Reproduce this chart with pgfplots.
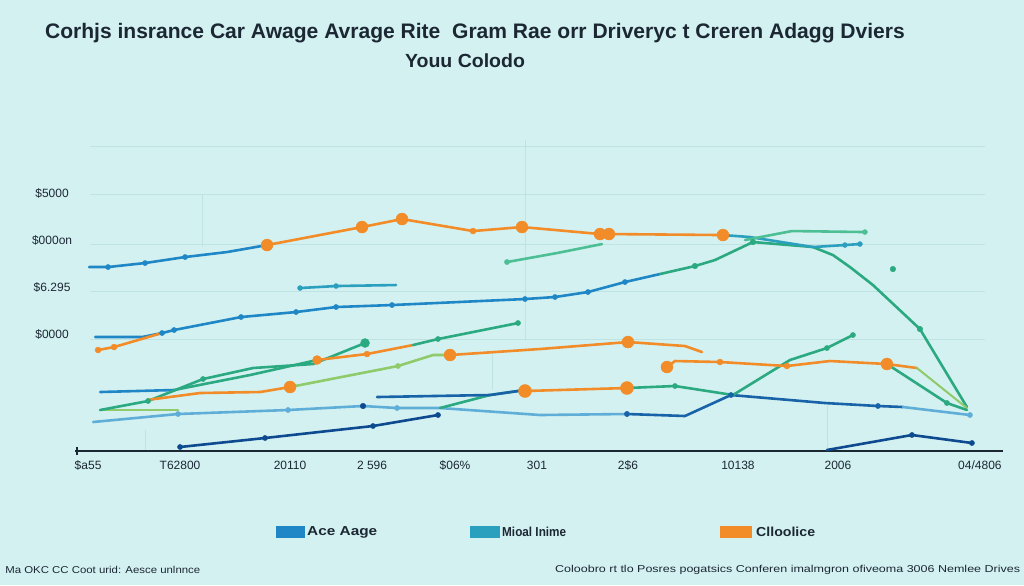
\documentclass[border=0pt]{standalone}
\usepackage{pgfplots}
\pgfplotsset{compat=1.18}
\usepackage{fontspec}
\setmainfont{Liberation Sans}
\definecolor{bgc}{HTML}{D4F1F1}
\definecolor{gridc}{HTML}{BFE2E3}
\definecolor{ctext}{HTML}{1B2733}
\definecolor{cblue}{HTML}{1F87C6}
\definecolor{cteal}{HTML}{2A9FBE}
\definecolor{cgreen}{HTML}{2BA981}
\definecolor{cmint}{HTML}{4DBF95}
\definecolor{clgreen}{HTML}{8FCB6B}
\definecolor{corange}{HTML}{F28C28}
\definecolor{cnavy}{HTML}{0E4A8F}
\definecolor{cdblue}{HTML}{1862A8}
\definecolor{clblue}{HTML}{5EAED8}
\begin{document}
\begin{tikzpicture}
\begin{axis}[
  scale only axis, width=1024pt, height=585pt,
  xmin=0, xmax=1024, ymin=-134, ymax=451,
  axis line style={draw=none}, major tick length=0pt,
  axis background/.style={fill=bgc},
  clip=false,
  xtick={88,180,290,372,455,537,628,738,838,980},
  xticklabels={\$a55, T62800, 20110, 2 596, \$06\%, 301, 2\$6, 10138, 2006, 04/4806},
  xticklabel style={anchor=center, yshift=120pt, font=\fontsize{12}{14}\selectfont, text=ctext},
  ytick={117,164,211,258},
  yticklabels={\$0000, \$6.295, \$000on, \$5000},
  yticklabel style={anchor=center, xshift=52pt, font=\fontsize{12}{14}\selectfont, text=ctext},
  every axis plot/.append style={line width=2.6pt, line join=round, line cap=round, mark options={line width=0.4pt}},
]
% grid
\draw[gridc, line width=0.9pt] (axis cs:90,305) -- (axis cs:985,305);
\draw[gridc, line width=0.9pt] (axis cs:90,257) -- (axis cs:985,257);
\draw[gridc, line width=0.9pt] (axis cs:90,207) -- (axis cs:985,207);
\draw[gridc, line width=0.9pt] (axis cs:90,160) -- (axis cs:985,160);
\draw[gridc, line width=0.9pt] (axis cs:90,112) -- (axis cs:985,112);
\draw[gridc, line width=0.8pt] (axis cs:202,204) -- (axis cs:202,256);
\draw[gridc, line width=0.8pt] (axis cs:525,111) -- (axis cs:525,311);
\draw[gridc, line width=0.8pt] (axis cs:492,61) -- (axis cs:492,98);
\draw[gridc, line width=0.8pt] (axis cs:145,0) -- (axis cs:145,21);
\draw[gridc, line width=0.8pt] (axis cs:827,0) -- (axis cs:827,48);
% axis line
\draw[ctext, line width=1.4pt] (axis cs:75,0) -- (axis cs:1003,0);
\draw[ctext, line width=1.4pt] (axis cs:77,-4) -- (axis cs:77,4);

% top blue
\addplot[cblue, mark=*, mark size=2.6pt, mark indices={2,3,4}] coordinates {(89,184)(108,184)(145,188)(185,194)(227,199)(267,206)};
% top orange
\addplot[corange] coordinates {(267,206)(362,224)(402,232)(473,220)(522,224)(600,217)(609,217)(723,216)};
\addplot[corange, only marks, mark=*, mark size=6pt] coordinates {(267,206)(362,224)(402,232)(522,224)(600,217)(609,217)(723,216)};
\addplot[corange, only marks, mark=*, mark size=3pt] coordinates {(473,220)};
% long blue to teal
\addplot[cblue, mark=*, mark size=2.6pt, mark indices={3,4,5,6,7,8,9,10,11,12}] coordinates {(95,114)(142,114)(162,118)(174,121)(241,134)(296,139)(336,144)(392,146)(525,152)(555,154)(588,159)(625,169)(660,177)};
\addplot[cgreen, mark=*, mark size=2.8pt, mark indices={2,4,9}] coordinates {(660,177)(695,185)(715,191)(753,209)(813,204)(833,196)(850,184)(873,166)(920,122)(967,44)};
\addplot[cteal, mark=*, mark size=2.5pt, mark indices={4,5}] coordinates {(723,216)(750,214)(813,204)(845,206)(860,207)};
\addplot[cmint, mark=*, mark size=2.5pt, mark indices={3}] coordinates {(745,211)(792,220)(865,219)};
\addplot[cmint, mark=*, mark size=2.6pt, mark indices={1}] coordinates {(507,189)(557,198)(602,207)};
\addplot[cgreen, only marks, mark=*, mark size=2.8pt] coordinates {(893,182)};
\addplot[cteal, mark=*, mark size=2.5pt, mark indices={1,2}] coordinates {(300,163)(336,165)(396,166)};
% left orange
\addplot[corange, mark=*, mark size=3pt, mark indices={1,2}] coordinates {(98,101)(114,104)(162,118)};
% lower cluster
\addplot[cblue] coordinates {(100,59)(174,61)};
\addplot[clgreen, line width=2pt] coordinates {(100,41)(178,41)};
\addplot[cgreen, mark=*, mark size=2.6pt, mark indices={2,3}] coordinates {(100,41)(148,50)(203,72)(253,83)(313,87)(365,108)};
\addplot[cgreen, only marks, mark=*, mark size=4.5pt] coordinates {(365,108)};
\addplot[cgreen] coordinates {(174,61)(250,76)(317,91)};
\addplot[corange, mark=*, mark size=3pt, mark indices={2}] coordinates {(317,91)(367,97)(413,106)};
\addplot[corange, only marks, mark=*, mark size=4.5pt] coordinates {(317,91)};
\addplot[cgreen, mark=*, mark size=2.6pt, mark indices={2,3}] coordinates {(413,106)(438,112)(518,128)};
\addplot[corange] coordinates {(147,51)(200,58)(260,59)(290,64)};
\addplot[clgreen, mark=*, mark size=2.6pt, mark indices={2}] coordinates {(290,64)(398,85)(433,96)(450,96)};
\addplot[corange] coordinates {(450,96)(540,102)(628,109)(685,105)(702,99)};
\addplot[corange, only marks, mark=*, mark size=6pt] coordinates {(290,64)(450,96)(628,109)};
\addplot[clblue, mark=*, mark size=2.6pt, mark indices={2,3,5,8}] coordinates {(93,29)(178,37)(288,41)(363,45)(397,43)(440,43)(540,36)(627,37)};
\addplot[cnavy, only marks, mark=*, mark size=2.8pt] coordinates {(363,45)};
\addplot[cdblue, mark=*, mark size=2.6pt, mark indices={1,3,5}] coordinates {(627,37)(685,35)(731,56)(825,48)(878,45)(903,44)};
\addplot[clblue, mark=*, mark size=2.6pt, mark indices={2}] coordinates {(903,44)(970,36)};
\addplot[cgreen] coordinates {(440,43)(490,56)(525,61)};
\addplot[cdblue] coordinates {(377,54)(490,56)(525,61)};
\addplot[corange] coordinates {(525,60)(627,63)};
\addplot[corange, only marks, mark=*, mark size=6.5pt] coordinates {(525,60)(627,63)};
\addplot[cgreen, mark=*, mark size=2.6pt, mark indices={2}] coordinates {(627,63)(675,65)(733,56)};
\addplot[cgreen, mark=*, mark size=2.6pt, mark indices={3,4}] coordinates {(733,56)(790,91)(827,103)(853,116)};
\addplot[cnavy, mark=*, mark size=2.6pt] coordinates {(180,4)(265,13)(373,25)(438,36)};
\addplot[cnavy, mark=*, mark size=2.6pt, mark indices={2,3}] coordinates {(827,1)(912,16)(972,8)};
\addplot[corange] coordinates {(667,84)(675,90)(720,89)(787,85)(830,90)(887,87)(917,83)};
\addplot[corange, only marks, mark=*, mark size=6pt] coordinates {(667,84)(887,87)};
\addplot[corange, only marks, mark=*, mark size=3pt] coordinates {(720,89)(787,85)};
\addplot[clgreen, line width=2pt] coordinates {(917,83)(967,43)};
\addplot[cgreen, mark=*, mark size=2.6pt, mark indices={2}] coordinates {(887,87)(947,48)(967,41)};

% title
\node[font=\bfseries\fontsize{21}{24}\selectfont, text=ctext] at (axis cs:475,418) {\resizebox{860pt}{\height}{Corhjs insrance Car Awage Avrage Rite\ \ Gram Rae orr Driveryc t Creren Adagg Dviers}};
\node[font=\bfseries\fontsize{19}{22}\selectfont, text=ctext] at (axis cs:465,390) {\resizebox{120pt}{\height}{Youu Colodo}};
% legend
\fill[cblue] (axis cs:276,-75) rectangle (axis cs:305,-87);
\node[anchor=west, font=\bfseries\fontsize{13}{15}\selectfont, text=ctext, inner sep=0pt] at (axis cs:307,-81) {\resizebox{70pt}{\height}{Ace Aage}};
\fill[cteal] (axis cs:470,-75) rectangle (axis cs:500,-87);
\node[anchor=west, font=\bfseries\fontsize{13}{15}\selectfont, text=ctext, inner sep=0pt] at (axis cs:502,-81) {\resizebox{64pt}{\height}{Mioal Inime}};
\fill[corange] (axis cs:720,-75) rectangle (axis cs:752,-87);
\node[anchor=west, font=\bfseries\fontsize{13}{15}\selectfont, text=ctext, inner sep=0pt] at (axis cs:756,-81) {\resizebox{59pt}{\height}{Clloolice}};
% footer
\node[anchor=west, font=\fontsize{10}{12}\selectfont, text=ctext, inner sep=0pt] at (axis cs:5,-119) {\resizebox{195pt}{\height}{Ma OKC CC Coot urid: Aesce unlnnce}};
\node[anchor=west, font=\fontsize{10}{12}\selectfont, text=ctext, inner sep=0pt] at (axis cs:555,-119) {\resizebox{465pt}{\height}{Coloobro rt tlo Posres pogatsics Conferen imalmgron ofiveoma 3006 Nemlee Drives}};
\end{axis}
\end{tikzpicture}
\end{document}
